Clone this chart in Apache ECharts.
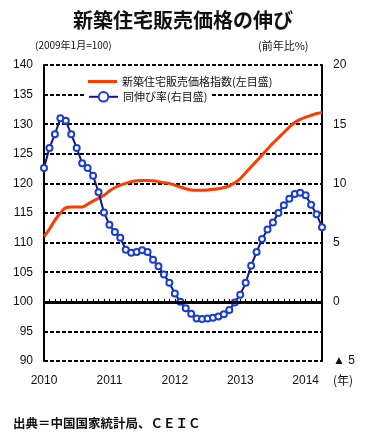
<!DOCTYPE html>
<html><head><meta charset="utf-8">
<script src="https://cdn.jsdelivr.net/npm/echarts@6/dist/echarts.min.js"></script>
<style>html,body{margin:0;padding:0;background:#fff}#c{width:366px;height:440px}</style>
</head><body><div id="c"></div>
<script>
const months = [
 '2010-01','2010-02','2010-03','2010-04','2010-05','2010-06','2010-07','2010-08','2010-09','2010-10','2010-11','2010-12',
 '2011-01','2011-02','2011-03','2011-04','2011-05','2011-06','2011-07','2011-08','2011-09','2011-10','2011-11','2011-12',
 '2012-01','2012-02','2012-03','2012-04','2012-05','2012-06','2012-07','2012-08','2012-09','2012-10','2012-11','2012-12',
 '2013-01','2013-02','2013-03','2013-04','2013-05','2013-06','2013-07','2013-08','2013-09','2013-10','2013-11','2013-12',
 '2014-01','2014-02','2014-03','2014-04'];
const priceIndex = [
 111.0,112.3,113.8,115.0,115.9,116.0,116.0,116.0,116.5,117.0,117.5,118.0,
 118.7,119.3,119.7,120.0,120.3,120.45,120.5,120.5,120.45,120.3,120.1,120.0,
 119.7,119.4,119.1,118.9,118.85,118.85,118.9,119.0,119.1,119.3,119.6,120.1,
 120.8,121.8,122.8,123.8,124.8,125.8,126.8,127.7,128.6,129.5,130.3,130.8,
 131.2,131.5,131.8,132.0];
const yoyGrowth = [
 11.3,13.0,14.15,15.5,15.3,14.15,13.0,11.7,11.3,10.65,9.25,7.55,
 6.5,5.9,5.4,4.4,4.15,4.2,4.35,4.2,3.55,3.0,2.3,1.6,
 0.7,0.0,-0.55,-1.0,-1.4,-1.45,-1.4,-1.35,-1.25,-1.05,-0.7,-0.05,
 0.6,1.6,3.05,4.2,5.3,6.1,6.7,7.5,8.15,8.7,9.1,9.2,
 9.0,8.2,7.4,6.3];
const seriesNames = ['新築住宅販売価格指数(左目盛)', '同伸び率(右目盛)'];
const titleText = '新築住宅販売価格の伸び';
const leftUnit = '(2009年1月=100)';
const rightUnit = '(前年比%)';
const xUnit = '(年)';
const sourceText = '出典＝中国国家統計局、ＣＥＩＣ';

const FONT = '"Liberation Sans", "Noto Sans CJK JP", sans-serif';
const JP = '"Noto Sans CJK JP", sans-serif';
const chart = echarts.init(document.getElementById('c'), null, {renderer: 'canvas'});
chart.setOption({
  animation: false,
  backgroundColor: '#fff',
  textStyle: {fontFamily: FONT, color: '#000'},
  title: {
    text: titleText, left: 'center', top: 5,
    textStyle: {fontFamily: JP, fontSize: 20, fontWeight: 'bold', color: '#111'}
  },
  legend: [
    {data: [{name: seriesNames[0], icon: 'rect'}], orient: 'vertical', left: 86, top: 71, padding: [5, 4, 5, 2], itemGap: 0,
     itemWidth: 29, itemHeight: 3, backgroundColor: '#fff',
     textStyle: {fontFamily: JP, fontSize: 11, color: '#111'}},
    {data: [seriesNames[1]], orient: 'vertical', left: 86, top: 90, padding: [1, 4, 1, 2], itemGap: 0,
     itemWidth: 29, itemHeight: 12, backgroundColor: '#fff',
     textStyle: {fontFamily: JP, fontSize: 11, color: '#111'}}
  ],
  grid: {left: 44, right: 44, top: 65, bottom: 79, containLabel: false},
  xAxis: {
    type: 'category', data: months, boundaryGap: false,
    axisLine: {show: true, lineStyle: {color: '#000', width: 2}},
    axisTick: {show: true, inside: true, interval: 0, length: 3, lineStyle: {color: '#000', width: 1}},
    axisLabel: {
      interval: (i) => i % 12 === 0,
      formatter: (v) => v.slice(0, 4),
      fontSize: 12, color: '#111', margin: 14, fontFamily: FONT
    },
    splitLine: {show: false}
  },
  yAxis: [
    {type: 'value', min: 90, max: 140, interval: 5, position: 'left',
     axisLine: {show: true, lineStyle: {color: '#000', width: 2}},
     axisTick: {show: false},
     axisLabel: {fontSize: 12, color: '#111', margin: 11, fontFamily: FONT},
     splitLine: {show: true, lineStyle: {color: '#000', width: 2, type: [4, 2]}}},
    {type: 'value', min: -5, max: 20, interval: 5, position: 'right',
     axisLine: {show: true, lineStyle: {color: '#000', width: 2}},
     axisTick: {show: false},
     axisLabel: {fontSize: 12, color: '#111', margin: 11, fontFamily: FONT,
       formatter: (v) => v < 0 ? '▲ ' + Math.abs(v) : String(v)},
     splitLine: {show: false}}
  ],
  graphic: [
    {type: 'text', left: 35, top: 40, style: {text: leftUnit, font: '10px ' + JP, fill: '#111'}},
    {type: 'text', left: 258, top: 40, style: {text: rightUnit, font: '11px ' + JP, fill: '#111'}},
    {type: 'text', left: 333, top: 374, style: {text: xUnit, font: '12px ' + JP, fill: '#111'}},
    {type: 'text', left: 13, top: 417, style: {text: sourceText, font: 'bold 12.5px ' + JP, fill: '#111'}}
  ],
  series: [
    {name: seriesNames[0], type: 'line', yAxisIndex: 0, data: priceIndex,
     showSymbol: false, symbol: 'none', smooth: 0.3,
     lineStyle: {color: '#ff3c00', width: 3}, itemStyle: {color: '#ff3c00'},
     markLine: {silent: true, symbol: 'none', label: {show: false},
       lineStyle: {color: '#000', width: 3, type: 'solid'},
       data: [{yAxis: 100}]},
     z: 3},
    {name: seriesNames[1], type: 'line', yAxisIndex: 1, data: yoyGrowth,
     symbol: 'circle', symbolSize: 6, showSymbol: true, showAllSymbol: true,
     lineStyle: {color: '#14148c', width: 2},
     itemStyle: {color: '#fff', borderColor: '#1a3fd0', borderWidth: 2},
     z: 4}
  ]
});
</script>
</body></html>
